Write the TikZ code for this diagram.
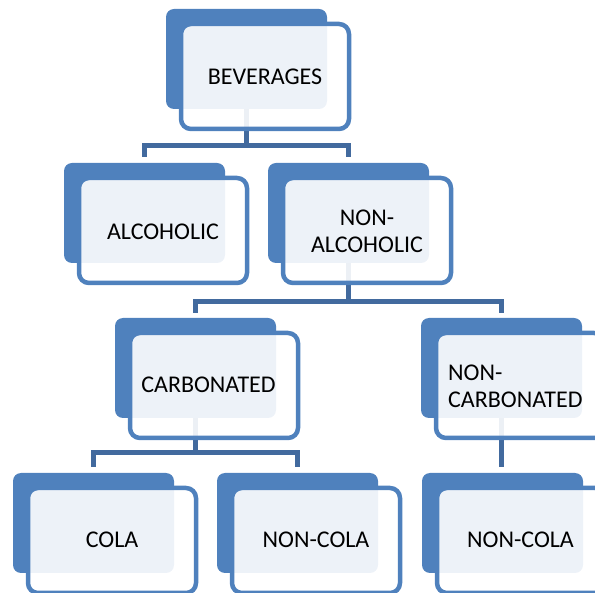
\documentclass[tikz,border=0pt]{standalone}
\usepackage{fontspec}
\setmainfont{Carlito}
\definecolor{accent}{RGB}{79,129,189}
\definecolor{connclr}{RGB}{66,106,158}
\tikzset{
  backbox/.style={fill=accent, draw=none, rounded corners=8pt, inner sep=0pt, outer sep=0pt,
    minimum width=161pt, minimum height=100pt, anchor=north west},
  frontbox/.style={draw=accent, line width=4.5pt, fill=white, fill opacity=0.9, draw opacity=1,
    rounded corners=10pt, inner sep=0pt, outer sep=0pt,
    minimum width=168pt, minimum height=105pt, anchor=north west},
  lbl/.style={font=\fontsize{24}{27}\selectfont, text=black, inner sep=0pt},
  conn/.style={draw=connclr, line width=5pt}
}
\begin{document}
\begin{tikzpicture}[x=1pt,y=-1pt]
\useasboundingbox (0,0) rectangle (595,593);
% back boxes
\node[backbox] (bev) at (166,9) {};
\node[backbox] (alc) at (64,163) {};
\node[backbox] (nalc) at (268,163) {};
\node[backbox] (carb) at (115,318) {};
\node[backbox] (ncarb) at (421,318) {};
\node[backbox] (cola) at (13,473) {};
\node[backbox] (ncola) at (217,473) {};
\node[backbox] (ncolb) at (422,473) {};
% connectors
\coordinate (b1) at (246.5,146);
\coordinate (b2) at (348.5,302);
\coordinate (b3) at (195.5,453);
\draw[conn] (bev.south) -- (b1);
\draw[conn, shorten <=6pt, shorten >=6pt] (alc.north) |- (b1) -| (nalc.north);
\draw[conn] (nalc.south) -- (b2);
\draw[conn, shorten <=5pt, shorten >=5pt] (carb.north) |- (b2) -| (ncarb.north);
\draw[conn] (carb.south) -- (b3);
\draw[conn, shorten <=6pt, shorten >=6pt] (cola.north) |- (b3) -| (ncola.north);
\draw[conn, shorten >=6pt] (ncarb.south) -- (ncarb.south |- ncolb.north);
% front boxes
\node[frontbox] (bevf) at (181,24) {};
\node[frontbox] (alcf) at (79,178) {};
\node[frontbox] (nalcf) at (283,178) {};
\node[frontbox] (carbf) at (130,333) {};
\node[frontbox] (ncarbf) at (436,333) {};
\node[frontbox] (colaf) at (28,488) {};
\node[frontbox] (ncolaf) at (232,488) {};
\node[frontbox] (ncolbf) at (437,488) {};
% labels
\node[lbl] (bevt) at (265,77) {BEVERAGES};
\node[lbl] (alct) at (163,232) {ALCOHOLIC};
\node[lbl, align=center] (nalct) at (367,231) {NON-\\ALCOHOLIC};
\node[lbl] (carbt) at (208.5,385) {CARBONATED};
\node[lbl, align=left, anchor=west] (ncarbt) at (448,386) {NON-\\CARBONATED};
\node[lbl] (colat) at (112,540) {COLA};
\node[lbl] (ncolat) at (316,540) {NON-COLA};
\node[lbl] (ncolbt) at (520.5,540) {NON-COLA};
\end{tikzpicture}
\end{document}
